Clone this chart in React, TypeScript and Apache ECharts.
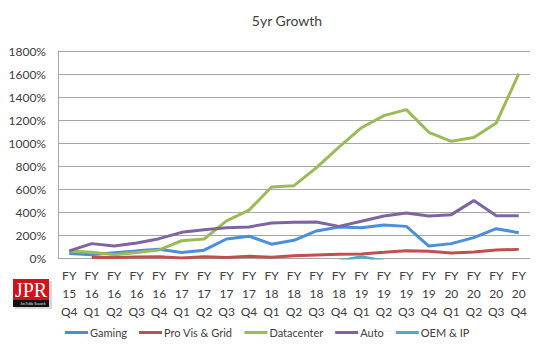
import React, { useEffect, useRef } from "react";
import * as echarts from "echarts";

const categories = [
  "FY\n15\nQ4",
  "FY\n16\nQ1", "FY\n16\nQ2", "FY\n16\nQ3", "FY\n16\nQ4",
  "FY\n17\nQ1", "FY\n17\nQ2", "FY\n17\nQ3", "FY\n17\nQ4",
  "FY\n18\nQ1", "FY\n18\nQ2", "FY\n18\nQ3", "FY\n18\nQ4",
  "FY\n19\nQ1", "FY\n19\nQ2", "FY\n19\nQ3", "FY\n19\nQ4",
  "FY\n20\nQ1", "FY\n20\nQ2", "FY\n20\nQ3", "FY\n20\nQ4",
];

const gaming = [40, 28, 45, 62, 77, 47, 68, 165, 190, 120, 154, 235, 270, 264, 287, 275, 104, 125, 177, 255, 220];
const proVis = [null, 5, 5, 8, 10, 0, 10, 5, 15, 6, 20, 26, 32, 35, 49, 64, 58, 43, 52, 70, 75];
const datacenter = [60, 50, 28, 48, 70, 150, 165, 323, 416, 618, 629, 786, 965, 1133, 1238, 1290, 1093, 1015, 1047, 1174, 1603];
const auto = [62, 125, 105, 130, 168, 223, 245, 264, 270, 305, 310, 313, 275, 319, 365, 391, 365, 377, 499, 368, 368];
const oemIp = [null, null, null, null, null, null, null, null, null, null, null, null, -25, 12, -25, null, null, null, null, null, null];

const seriesNames = ["Gaming", "Pro Vis & Grid", "Datacenter", "Auto", "OEM & IP"];
const seriesColors = ["#4A8FDB", "#C0504D", "#9BBB59", "#8064A2", "#4BACC6"];
const yTicks = { min: 0, max: 1800, interval: 200 };

export default function App() {
  const ref = useRef<HTMLDivElement>(null);
  useEffect(() => {
    if (!ref.current) return;
    const chart = echarts.init(ref.current, undefined, { renderer: "svg" });
    const data = [gaming, proVis, datacenter, auto, oemIp];
    chart.setOption({
      animation: false,
      backgroundColor: "#ffffff",
      textStyle: { fontFamily: "Lato" },
      title: {
        text: "5yr Growth",
        left: 282,
        textAlign: "center",
        top: 8,
        textStyle: { fontFamily: "Lato", fontSize: 14, fontWeight: "normal", color: "#404040" },
      },
      grid: { left: 58, right: 20, top: 51, bottom: 93 },
      legend: {
        data: seriesNames,
        left: 65,
        top: 327,
        padding: 0,
        itemGap: 12,
        itemWidth: 23,
        itemHeight: 3,
        icon: "rect",
        textStyle: { fontFamily: "Lato", fontSize: 11, color: "#404040", padding: [0, 0, 0, -3] },
      },
      xAxis: {
        type: "category",
        data: categories,
        boundaryGap: true,
        axisLine: { show: true, lineStyle: { color: "#A6A6A6", width: 1 } },
        axisTick: { show: false },
        axisLabel: {
          interval: 0,
          margin: 8,
          fontFamily: "Lato",
          fontSize: 12,
          lineHeight: 18,
          color: "#404040",
        },
      },
      yAxis: {
        type: "value",
        min: yTicks.min,
        max: yTicks.max,
        interval: yTicks.interval,
        axisLine: { show: true, lineStyle: { color: "#A6A6A6", width: 1 } },
        axisTick: { show: false },
        splitLine: { show: true, lineStyle: { color: "#A6A6A6", width: 1 } },
        axisLabel: {
          formatter: (v: number) => `${v}%`,
          fontFamily: "Lato",
          fontSize: 12,
          color: "#404040",
          margin: 12,
        },
      },
      series: seriesNames.map((name, i) => ({
        name,
        type: "line",
        data: data[i],
        showSymbol: false,
        symbol: "none",
        clip: true,
        connectNulls: false,
        lineStyle: { color: seriesColors[i], width: 3 },
        itemStyle: { color: seriesColors[i] },
      })),
      graphic: [
        { type: "rect", shape: { x: 15, y: 281, width: 37, height: 28 }, style: { fill: "#d8d8d8" } },
        { type: "rect", shape: { x: 13, y: 279, width: 36, height: 21 }, style: { fill: "#D0121B" } },
        { type: "rect", shape: { x: 13, y: 300, width: 36, height: 7 }, style: { fill: "#111111" } },
        {
          type: "text",
          x: 31,
          y: 290,
          style: {
            text: "JPR",
            fill: "#ffffff",
            font: "20px 'Liberation Serif', serif",
            textAlign: "center",
            textVerticalAlign: "middle",
          },
        },
        {
          type: "text",
          x: 33,
          y: 303.5,
          style: {
            text: "Jon Peddie Research",
            fill: "#ffffff",
            font: "3px 'Liberation Serif', serif",
            textAlign: "center",
            textVerticalAlign: "middle",
          },
        },
      ],
    });
    return () => chart.dispose();
  }, []);
  return <div ref={ref} style={{ width: 550, height: 351, position: "absolute", left: 0, top: 0 }} />;
}
